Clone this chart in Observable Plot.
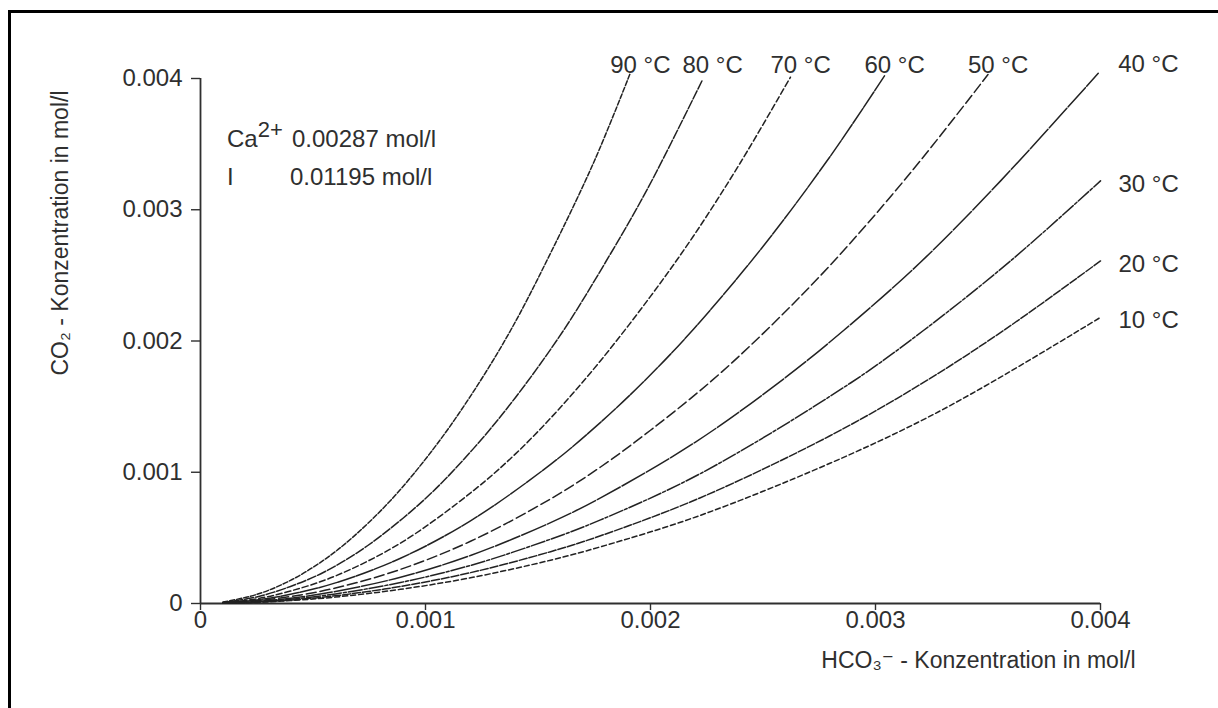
<!DOCTYPE html>
<html>
<head>
<meta charset="utf-8">
<script src="https://cdn.jsdelivr.net/npm/d3@7"></script>
<script src="https://cdn.jsdelivr.net/npm/@observablehq/plot@0.6"></script>
<style>
  html, body { margin: 0; padding: 0; background: #fff; overflow: hidden; }
  #wrap { position: relative; width: 1218px; height: 708px; }
  #frame { position: absolute; left: 8px; top: 10px; width: 1400px; height: 900px;
           border-left: 3px solid #000; border-top: 3px solid #000; pointer-events: none; }
  #chart { position: absolute; left: 0; top: 0; }
</style>
</head>
<body>
<div id="wrap"><div id="chart"></div><div id="frame"></div></div>
<script>
// ---- data (mol/l) ----
const temps = [90, 80, 70, 60, 50, 40, 30, 20, 10];

const hco3_90 = [0.0001, 0.00025, 0.0004, 0.00055, 0.00068, 0.00085, 0.001036, 0.0012, 0.001378, 0.001556, 0.00175, 0.00191];
const co2_90  = [0.000011, 0.000069, 0.000176, 0.000333, 0.00051, 0.000795, 0.00118, 0.00158, 0.00208, 0.00267, 0.00337, 0.00404];

const hco3_80 = [0.0001, 0.00025, 0.0004, 0.00055, 0.000742, 0.001, 0.001213, 0.0014, 0.001613, 0.0018, 0.001987, 0.002231];
const co2_80  = [0.000008, 0.00005, 0.00013, 0.00024, 0.00044, 0.0008, 0.00118, 0.00157, 0.00208, 0.0026, 0.00316, 0.00399];

const hco3_70 = [0.0001, 0.00025, 0.0004, 0.0006, 0.000889, 0.001213, 0.0014, 0.001587, 0.001778, 0.002, 0.002191, 0.0024, 0.002622];
const co2_70  = [0.000006, 0.000036, 0.000095, 0.00021, 0.00046, 0.00086, 0.00114, 0.00147, 0.00185, 0.00234, 0.0028, 0.00336, 0.00401];

const hco3_60 = [0.0001, 0.00025, 0.0004, 0.0006, 0.000889, 0.0012, 0.001556, 0.001778, 0.001987, 0.002191, 0.0025, 0.0028, 0.00304];
const co2_60  = [0.000004, 0.000027, 0.00007, 0.000157, 0.000345, 0.00063, 0.00106, 0.00138, 0.00172, 0.00209, 0.00272, 0.00341, 0.00402];

const hco3_50 = [0.0001, 0.00025, 0.0004, 0.0006, 0.000889, 0.0012, 0.001556, 0.001778, 0.002, 0.002267, 0.002502, 0.0028, 0.00315, 0.0035];
const co2_50  = [0.000003, 0.000021, 0.000053, 0.000118, 0.00026, 0.000474, 0.000797, 0.00104, 0.00132, 0.00169, 0.00206, 0.00258, 0.00327, 0.00403];

const hco3_40 = [0.0001, 0.00025, 0.0004, 0.0006, 0.000889, 0.0012, 0.001556, 0.001778, 0.0022, 0.002591, 0.002858, 0.0032, 0.003556, 0.00399];
const co2_40  = [0.000003, 0.000016, 0.00004, 0.000092, 0.0002, 0.000366, 0.000616, 0.000805, 0.00123, 0.00171, 0.00208, 0.0026, 0.00322, 0.00404];

const hco3_30 = [0.0001, 0.00025, 0.0004, 0.0006, 0.000889, 0.0012, 0.001556, 0.001778, 0.002222, 0.002889, 0.003213, 0.0036, 0.004];
const co2_30  = [0.000002, 0.000013, 0.000032, 0.000073, 0.00016, 0.00029, 0.00049, 0.000637, 0.00099, 0.00168, 0.00208, 0.00261, 0.00322];

const hco3_20 = [0.0001, 0.00025, 0.0004, 0.0006, 0.000889, 0.0012, 0.001556, 0.001778, 0.002222, 0.0028, 0.0032, 0.003569, 0.004];
const co2_20  = [0.000002, 0.00001, 0.000026, 0.000059, 0.00013, 0.000235, 0.000395, 0.000516, 0.000806, 0.00128, 0.00167, 0.00208, 0.00261];

const hco3_10 = [0.0001, 0.00025, 0.0004, 0.0006, 0.000889, 0.0012, 0.001556, 0.001778, 0.002222, 0.0028, 0.0032, 0.003511, 0.004];
const co2_10  = [0.000001, 0.0000085, 0.000022, 0.000049, 0.000108, 0.000196, 0.00033, 0.000432, 0.000672, 0.00107, 0.00139, 0.00168, 0.00218];

const xTicks = [0, 0.001, 0.002, 0.003, 0.004];
const xTickLabels = ["0", "0.001", "0.002", "0.003", "0.004"];
const yTicks = [0, 0.001, 0.002, 0.003, 0.004];
const yTickLabels = ["0", "0.001", "0.002", "0.003", "0.004"];

const xLabel = "HCO\u2083\u207B - Konzentration in mol/l";
const yLabel = "CO\u2082 - Konzentration in mol/l";
const caLabel = "Ca";
const caSup = "2+";
const caValue = "0.00287 mol/l";
const ionLabel = "I";
const ionValue = "0.01195 mol/l";

// ---- build table ----
const xs = [hco3_90, hco3_80, hco3_70, hco3_60, hco3_50, hco3_40, hco3_30, hco3_20, hco3_10];
const ys = [co2_90, co2_80, co2_70, co2_60, co2_50, co2_40, co2_30, co2_20, co2_10];
const series = temps.map((t, i) => xs[i].map((x, j) => ({t, x, y: ys[i][j]})));
const ends = series.map(s => s[s.length - 1]);
const yMax = yTicks[yTicks.length - 1];
const topEnds = ends.filter(d => d.x < 0.0039);
const cornerEnds = ends.filter(d => d.x >= 0.0039 && d.y > 0.0039);
const rightEnds = ends.filter(d => d.x >= 0.0039 && d.y <= 0.0039);

const dashes = {90: "5,2", 80: "9,2", 70: "6,3", 60: "18,1.5", 50: "10,4",
                40: "26,2", 30: "14,2,3,2", 20: "8,2", 10: "5,3"};

const FONT = "'Liberation Sans', Arial, 'DejaVu Sans', sans-serif";
const ink = "#2f2f2f";
const label = d => `${d.t} °C`;

const plot = Plot.plot({
  width: 1218,
  height: 708,
  marginLeft: 200,
  marginRight: 118,
  marginTop: 78,
  marginBottom: 105,
  x: {domain: [0, 0.004]},
  y: {domain: [0, 0.004]},
  style: {fontFamily: FONT, fontSize: "24px", color: ink, background: "transparent"},
  marks: [
    Plot.axisY({ticks: yTicks, tickFormat: d => yTickLabels[yTicks.indexOf(d)], tickSize: 9, tickPadding: 9,
                label: null, stroke: ink, strokeWidth: 1.4, fontSize: 24}),
    Plot.axisX({ticks: xTicks, tickFormat: d => xTickLabels[xTicks.indexOf(d)], tickSize: 7, tickPadding: 0,
                label: null, stroke: ink, strokeWidth: 1.4, fontSize: 24}),
    Plot.ruleX([0], {stroke: ink, strokeWidth: 1.8}),
    Plot.ruleY([0], {stroke: ink, strokeWidth: 1.8}),
    ...series.map(s => Plot.line(s, {x: "x", y: "y", curve: "catmull-rom", stroke: "#222",
                                     strokeWidth: 1.5, strokeDasharray: dashes[s[0].t]})),
    Plot.text(topEnds, {x: "x", y: () => yMax, text: label, textAnchor: "start",
                        dx: -20, dy: -13, fontSize: 24, fill: ink}),
    Plot.text(cornerEnds, {x: "x", y: "y", text: label, textAnchor: "start",
                           dx: 20, dy: -9, fontSize: 24, fill: ink}),
    Plot.text(rightEnds, {x: "x", y: "y", text: label, textAnchor: "start",
                          dx: 18, dy: 3, fontSize: 24, fill: ink}),
    Plot.text([yLabel], {frameAnchor: "left", rotate: -90, dx: -140, dy: -108, fontSize: 23, fill: ink,
                         textAnchor: "middle"}),
    Plot.text([xLabel], {frameAnchor: "bottom-right", dx: 35, dy: 64, fontSize: 23, fill: ink,
                         textAnchor: "end"}),
  ]
});
document.getElementById("chart").appendChild(plot);

// annotation with a real superscript
const svg = d3.select(plot);
const ann = svg.append("g").attr("font-family", FONT).attr("fill", ink)
  .attr("font-size", 24).attr("text-anchor", "start");
const t1 = ann.append("text").attr("x", 227).attr("y", 147);
t1.append("tspan").text(caLabel);
t1.append("tspan").attr("dy", -10).attr("font-size", 22).text(caSup);
ann.append("text").attr("x", 292).attr("y", 147).text(caValue);
ann.append("text").attr("x", 227).attr("y", 185).text(ionLabel);
ann.append("text").attr("x", 290).attr("y", 185).text(ionValue);
</script>
</body>
</html>
